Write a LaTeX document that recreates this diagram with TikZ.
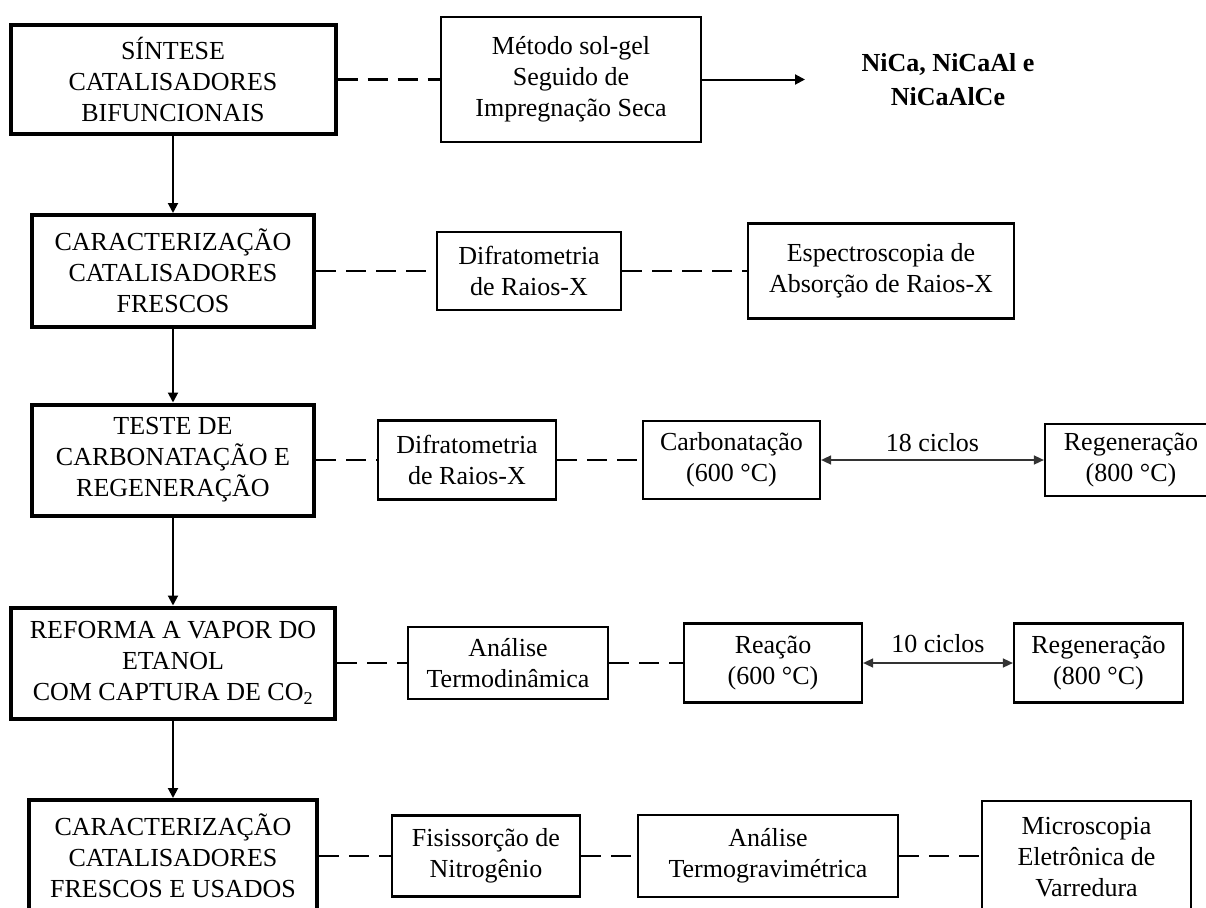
\documentclass[tikz,border=0pt]{standalone}
\usepackage{fontspec}
\setmainfont{Liberation Serif}
\usetikzlibrary{arrows.meta}
\begin{document}
\begin{tikzpicture}[x=1pt,y=-1pt,
  every node/.style={font=\fontsize{26}{31}\selectfont, align=center, inner sep=0pt},
  mainbox/.style={draw, line width=4pt, rectangle},
  subbox/.style={draw, line width=2.2pt, rectangle},
  dashlink/.style={line width=2.7pt, dash pattern=on 20pt off 10pt},
  flow/.style={line width=2pt, -{Triangle[length=10pt,width=10pt]}},
  cycle/.style={line width=1.5pt, black!80, {Triangle[length=10pt,width=9pt]}-{Triangle[length=10pt,width=9pt]}}
]
\useasboundingbox (0,0) rectangle (1206,907);
\fill[white] (0,0) rectangle (1206,907);
\clip (0,0) rectangle (1206,907);

% row 1
\node[mainbox, minimum width=325pt, minimum height=109pt] (b1) at (173,79.5) {SÍNTESE\\CATALISADORES\\BIFUNCIONAIS};
\node[subbox, minimum width=260pt, minimum height=125pt] (m1) at (571,79.5) {Método sol-gel\\Seguido de\\Impregnação Seca};
\node[font=\fontsize{26}{34}\selectfont\bfseries] (r1) at (948,80) {NiCa, NiCaAl e\\NiCaAlCe};
\coordinate (a1) at (805,79.5);
\draw[dashlink] (b1) -- (m1);
\draw[flow] (m1) -- (a1);

% row 2
\node[mainbox, minimum width=282pt, minimum height=112pt] (b3) at (173,271) {CARACTERIZAÇÃO\\CATALISADORES\\FRESCOS};
\node[subbox, minimum width=184pt, minimum height=78pt] (d2) at (529,271) {Difratometria\\de Raios-X};
\node[subbox, minimum width=266pt, minimum height=95pt] (e2) at (881,271) {Espectroscopia de\\Absorção de Raios-X};
\draw[dashlink] (b3) -- (d2);
\draw[dashlink] (d2) -- (e2);

% row 3
\node[mainbox, minimum width=282pt, minimum height=111pt] (b5) at (173,460) {TESTE DE\\CARBONATAÇÃO E\\REGENERAÇÃO};
\node[subbox, minimum width=178pt, minimum height=79pt] (d3) at (467,460) {Difratometria\\de Raios-X};
\node[subbox, minimum width=177pt, minimum height=78pt] (c3) at (731.5,460) {Carbonatação\\(600 °C)};
\node[subbox, minimum width=172pt, minimum height=72pt] (g3) at (1131,460) {Regeneração\\(800 °C)};
\draw[dashlink] (b5) -- (d3);
\draw[dashlink] (d3) -- (c3);
\draw[cycle] (c3) -- node[midway, above=8pt, black] {18 ciclos} (g3);

% row 4
\node[mainbox, minimum width=324pt, minimum height=111pt] (b7) at (173,663) {REFORMA A VAPOR DO\\ETANOL\\COM CAPTURA DE CO\textsubscript{2}};
\node[subbox, minimum width=200pt, minimum height=72pt] (a4) at (508,663) {Análise\\Termodinâmica};
\node[subbox, minimum width=178pt, minimum height=79pt] (r4) at (773,663) {Reação\\(600 °C)};
\node[subbox, minimum width=169pt, minimum height=79pt] (g4) at (1098.5,663) {Regeneração\\(800 °C)};
\draw[dashlink] (b7) -- (a4);
\draw[dashlink] (a4) -- (r4);
\draw[cycle] (r4) -- node[midway, above=10pt, black] {10 ciclos} (g4);

% row 5
\node[mainbox, minimum width=288pt, minimum height=112pt] (b9) at (173,856) {CARACTERIZAÇÃO\\CATALISADORES\\FRESCOS E USADOS};
\node[subbox, minimum width=188pt, minimum height=81pt] (f5) at (486,856) {Fisissorção de\\Nitrogênio};
\node[subbox, minimum width=260pt, minimum height=82pt] (t5) at (768,856) {Análise\\Termogravimétrica};
\node[subbox, minimum width=209pt, minimum height=112pt] (s5) at (1086.5,857) {Microscopia\\Eletrônica de\\Varredura};
\draw[dashlink] (b9) -- (f5);
\draw[dashlink] (f5) -- (t5);
\draw[dashlink] (t5.east) -- (t5.east -| s5.west);

% vertical flow
\draw[flow] (b1) -- (b3);
\draw[flow] (b3) -- (b5);
\draw[flow] (b5) -- (b7);
\draw[flow] (b7) -- (b9);
\end{tikzpicture}
\end{document}
